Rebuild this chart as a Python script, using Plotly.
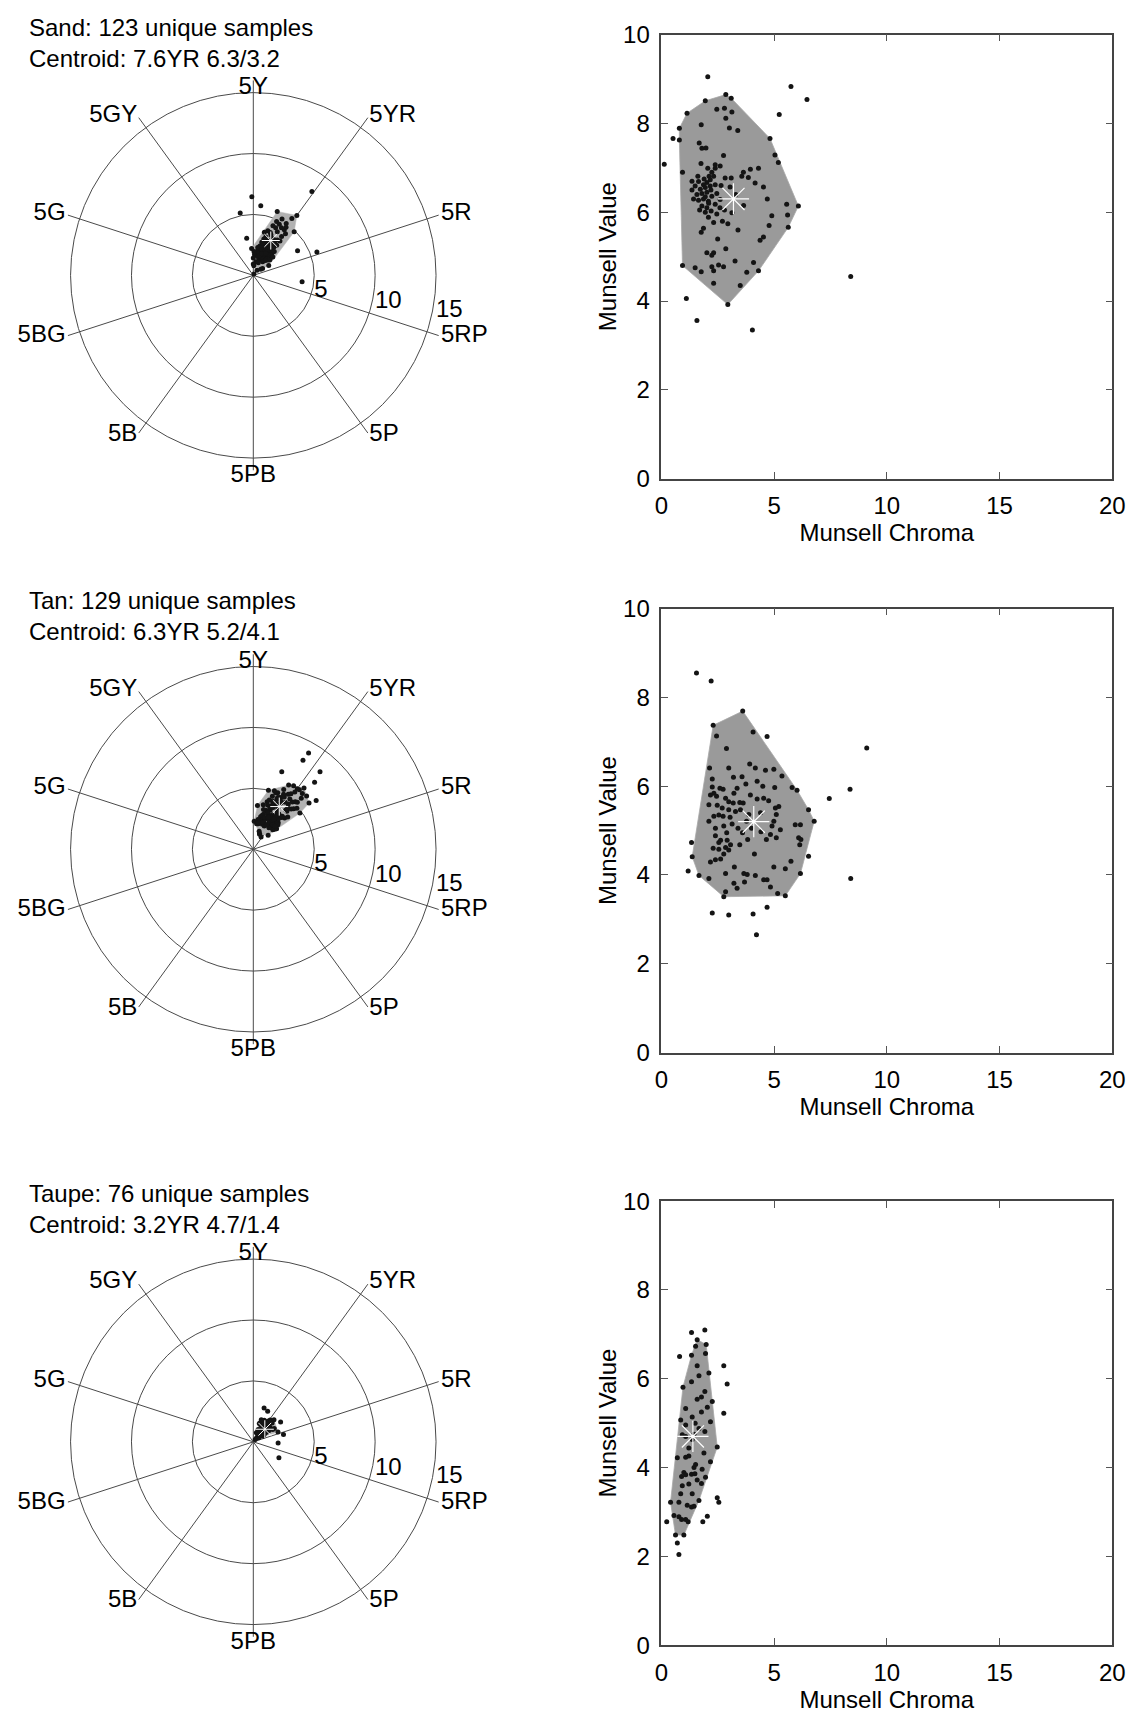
import math
import plotly.graph_objects as go

# ---------------- data ----------------
# Hue on the 100-step Munsell circle: 5R=5, 5YR=15, 5Y=25, ... 5RP=95
HUE_FAMILIES = ["R", "YR", "Y", "GY", "G", "BG", "B", "PB", "P", "RP"]
HUE_TICK_HUES = [5, 15, 25, 35, 45, 55, 65, 75, 85, 95]
HUE_TICK_TEXT = ["5R", "5YR", "5Y", "5GY", "5G", "5BG", "5B", "5PB", "5P", "5RP"]
HUE_TICK_POS = ["middle right", "middle right", "middle center", "middle left",
                "middle left", "middle left", "middle left", "bottom center",
                "middle right", "middle right"]
HUE_LABEL_R = [16.2, 16.2, 15.4, 16.2, 16.2, 16.2, 16.2, 15.5, 16.2, 16.2]
SPOKE_LENGTH = 16
CHROMA_RINGS = [5, 10, 15]
RING_LABEL_R = [5.7, 11.3, 16.35]
RING_LABEL_ANGLE = [-13.4, -11.3, -10.3]
CHROMA_TICKS = [0, 5, 10, 15, 20]
VALUE_TICKS = [0, 2, 4, 6, 8, 10]

NAMES = ["Sand", "Tan", "Taupe"]
CENTROID_HUE = [17.6, 16.3, 13.2]
CENTROID_VALUE = [6.3, 5.2, 4.7]
CENTROID_CHROMA = [3.2, 4.1, 1.4]

# Sand: core samples (inside both hulls)
SAND_CORE_CHROMA = [1.14, 1.95, 2.86, 3.10, 2.46, 2.80, 3.13, 2.86, 0.80, 1.77,
                    3.02, 3.39, 4.82, 0.80, 1.68, 1.80, 1.98, 2.76, 5.04, 5.19,
                    1.76, 2.61, 2.39, 2.06, 0.94, 2.24, 3.64, 3.95, 4.31, 3.86,
                    3.57, 2.83, 4.53, 3.05, 2.12, 2.32, 2.17, 2.02, 1.87, 1.65,
                    1.50, 1.36, 1.73, 1.95, 2.17, 2.39, 1.58, 1.80, 2.02, 2.24,
                    1.43, 1.65, 1.87, 2.09, 2.46, 1.80, 2.02, 2.21, 1.95, 2.39,
                    2.61, 2.80, 3.13, 2.46, 2.32, 2.09, 2.71, 2.95, 1.87, 1.77,
                    5.60, 4.90, 4.78, 5.63, 6.08, 4.53, 4.38, 2.86, 2.02, 2.32,
                    2.24, 3.27, 4.09, 4.31, 3.79, 2.76, 2.54, 2.24, 2.32, 1.50,
                    1.77, 0.94, 2.32, 3.50, 2.95, 1.36, 1.62, 2.39, 3.30, 2.60,
                    1.95, 3.40, 2.20, 1.70, 3.65, 2.50, 4.70, 2.10, 1.90, 2.65]
SAND_CORE_VALUE = [8.23, 8.51, 8.65, 8.57, 8.32, 8.34, 8.26, 8.12, 7.89, 7.97,
                   7.90, 7.84, 7.66, 7.63, 7.56, 7.44, 7.45, 7.28, 7.29, 7.12,
                   7.10, 7.04, 6.99, 6.99, 6.90, 6.90, 6.90, 6.97, 6.99, 6.78,
                   6.81, 6.77, 6.57, 6.57, 6.81, 6.81, 6.73, 6.67, 6.62, 6.69,
                   6.59, 6.50, 6.52, 6.56, 6.59, 6.62, 6.40, 6.42, 6.45, 6.36,
                   6.30, 6.27, 6.30, 6.25, 6.42, 6.14, 6.10, 6.03, 6.00, 6.18,
                   6.29, 6.05, 5.99, 5.96, 5.77, 5.89, 5.80, 5.74, 5.64, 5.55,
                   5.94, 5.92, 5.70, 5.66, 6.14, 5.44, 5.37, 5.18, 5.09, 5.09,
                   5.03, 4.90, 4.87, 4.68, 4.65, 4.77, 4.81, 4.77, 4.68, 4.75,
                   4.66, 4.80, 4.40, 4.35, 3.92, 6.70, 6.81, 7.07, 6.40, 6.10,
                   6.35, 5.60, 6.50, 6.05, 6.15, 5.40, 6.30, 6.20, 6.75, 6.60]
SAND_CORE_HUE = [22.0, 19.5, 16.0, 20.5, 14.0, 21.0, 18.0, 15.0, 24.0, 16.5,
                 19.5, 16.5, 18.5, 11.0, 21.5, 14.5, 20.5, 17.5, 16.0, 17.5,
                 23.0, 19.5, 15.5, 22.0, 25.0, 13.5, 18.5, 15.0, 18.0, 20.0,
                 14.5, 19.0, 15.5, 17.0, 18.0, 21.0, 20.0, 13.0, 16.5, 23.5,
                 9.0, 19.5, 24.0, 17.5, 12.5, 19.0, 21.0, 13.5, 20.5, 16.5,
                 25.0, 17.0, 12.0, 22.0, 16.0, 19.0, 14.5, 26.0, 22.5, 14.0,
                 20.5, 16.5, 14.5, 21.5, 17.5, 15.0, 19.0, 17.0, 21.0, 14.0,
                 19.3, 13.0, 15.5, 15.5, 15.0, 16.5, 19.0, 18.0, 19.5, 14.5,
                 20.0, 16.0, 17.0, 14.5, 19.0, 20.5, 15.0, 18.0, 22.5, 18.5,
                 12.5, 10.0, 16.5, 15.5, 18.5, 15.5, 18.0, 17.0, 20.0, 13.5,
                 24.5, 17.5, 12.0, 20.0, 21.0, 18.5, 17.5, 15.5, 19.0, 16.5]
# Sand: off-hue samples (inside value/chroma hull, outside hue/chroma hull)
SAND_OFFHUE_CHROMA = [3.10, 4.16, 5.56]
SAND_OFFHUE_VALUE = [6.77, 6.66, 6.18]
SAND_OFFHUE_HUE = [27.8, 8.1, 5.6]
# Sand: outliers
SAND_OUT_CHROMA = [2.06, 5.75, 6.46, 5.23, 0.13, 0.52, 1.11, 1.58, 4.04, 8.40]
SAND_OUT_VALUE = [9.05, 8.83, 8.54, 8.20, 7.08, 7.66, 4.06, 3.56, 3.35, 4.55]
SAND_OUT_HUE = [16.7, 23.3, 25.3, 28.3, 18.0, 15.0, 19.0, 14.0, 97.9, 15.3]

# Tan
TAN_CORE_CHROMA = [3.61, 2.30, 1.37, 1.67, 2.77, 5.50, 6.17, 6.53, 2.45, 4.07,
                   2.89, 3.92, 4.17, 4.62, 4.99, 5.35, 5.80, 6.02, 2.14, 2.99,
                   2.26, 3.58, 3.36, 5.03, 2.74, 2.33, 2.18, 2.45, 2.85, 2.99,
                   3.19, 3.48, 3.63, 3.95, 4.25, 4.54, 4.76, 5.21, 5.06, 2.48,
                   2.70, 2.99, 3.29, 3.51, 3.88, 4.40, 5.10, 4.99, 4.91, 2.11,
                   2.33, 2.74, 3.14, 4.42, 4.84, 5.28, 5.94, 6.17, 2.77, 2.40,
                   2.63, 2.55, 2.92, 3.07, 2.85, 2.99, 2.55, 2.77, 3.48, 3.83,
                   4.66, 5.10, 6.09, 6.19, 6.14, 4.13, 2.18, 2.40, 2.63, 3.24,
                   2.85, 3.66, 3.81, 4.17, 4.54, 4.69, 4.84, 4.99, 5.50, 5.75,
                   5.16, 3.69, 3.22, 3.36, 2.85, 2.11, 2.11, 2.26, 3.22, 2.55,
                   3.78, 4.25, 2.60, 3.05, 2.40, 3.40, 2.90, 3.60, 2.30, 3.20,
                   3.75, 4.50, 4.00]
TAN_CORE_VALUE = [7.69, 7.37, 4.41, 3.99, 3.51, 3.53, 4.03, 5.47, 7.13, 7.22,
                  6.85, 6.50, 6.41, 6.36, 6.38, 6.23, 5.97, 5.91, 6.41, 6.41,
                  6.16, 6.21, 5.95, 5.97, 5.93, 5.84, 5.80, 5.77, 5.73, 5.65,
                  5.62, 5.63, 5.62, 5.80, 5.71, 5.73, 5.67, 5.54, 5.51, 5.57,
                  5.51, 5.47, 5.43, 5.47, 5.36, 5.40, 5.36, 5.21, 5.10, 5.21,
                  5.32, 5.32, 5.15, 4.97, 4.91, 5.02, 5.13, 5.13, 5.10, 4.88,
                  4.78, 4.73, 4.78, 4.68, 4.62, 4.56, 4.58, 4.47, 4.68, 4.80,
                  4.80, 4.84, 4.84, 4.80, 4.68, 4.47, 4.29, 4.34, 4.36, 4.18,
                  4.03, 4.03, 4.01, 3.99, 3.89, 3.89, 3.73, 4.18, 4.14, 4.31,
                  3.58, 3.84, 3.81, 3.70, 3.62, 3.92, 5.58, 5.98, 5.84, 5.35,
                  5.21, 6.11, 5.95, 5.30, 5.05, 5.05, 4.95, 4.95, 4.60, 6.20,
                  6.05, 6.00, 5.05]
TAN_CORE_HUE = [23.5, 24.5, 19.0, 12.0, 18.5, 17.5, 14.5, 14.0, 21.0, 20.5,
                14.0, 18.5, 13.5, 19.5, 21.0, 16.0, 15.0, 17.0, 22.0, 17.0,
                12.5, 15.0, 20.0, 14.0, 21.5, 15.5, 19.5, 13.0, 17.5, 20.5,
                14.5, 18.5, 12.5, 16.5, 19.0, 13.0, 17.5, 13.5, 18.5, 22.5,
                16.0, 13.0, 19.5, 15.5, 12.0, 16.5, 15.0, 19.0, 12.0, 18.0,
                13.5, 20.5, 16.5, 14.0, 17.0, 13.0, 11.0, 16.0, 18.0, 12.0,
                20.0, 16.5, 13.5, 18.5, 21.0, 15.5, 11.5, 19.5, 13.5, 18.0,
                15.5, 19.5, 13.5, 12.5, 15.0, 17.0, 15.0, 21.5, 14.0, 19.0,
                12.5, 16.0, 20.0, 14.0, 18.0, 12.5, 10.5, 16.5, 15.5, 13.0,
                17.0, 19.0, 14.0, 21.0, 16.0, 22.5, 23.0, 17.5, 17.0, 14.5,
                18.0, 20.0, 13.0, 16.5, 19.0, 15.0, 18.0, 13.5, 20.0, 15.5,
                21.5, 16.5, 18.5]
TAN_OFFHUE_CHROMA = [6.78]
TAN_OFFHUE_VALUE = [5.21]
TAN_OFFHUE_HUE = [19.4]
TAN_OUT_CHROMA = [1.56, 2.21, 4.69, 9.11, 8.37, 7.45, 8.40, 6.53, 1.34, 1.19,
                  2.26, 2.99, 4.07, 4.69, 4.22]
TAN_OUT_VALUE = [8.55, 8.37, 7.12, 6.86, 5.93, 5.72, 3.92, 4.42, 4.73, 4.09,
                 3.14, 3.10, 3.12, 3.27, 2.65]
TAN_OUT_HUE = [20.0, 22.0, 18.0, 16.7, 16.9, 13.2, 13.7, 10.5, 18.5, 16.0,
               17.0, 15.5, 16.5, 14.5, 17.5]

# Taupe
TAUPE_CORE_CHROMA = [1.59, 1.99, 1.34, 1.59, 2.11, 1.34, 0.96, 1.93, 1.59, 1.78,
                     2.26, 2.04, 1.78, 2.18, 0.86, 1.08, 0.93, 1.08, 1.45, 1.93,
                     1.37, 2.48, 0.71, 1.08, 1.22, 2.18, 1.52, 1.45, 1.81, 1.00,
                     1.08, 0.90, 1.34, 1.49, 1.59, 1.78, 0.93, 0.86, 0.78, 0.41,
                     1.45, 1.34, 1.15, 0.56, 0.78, 0.90, 1.08, 1.19, 0.63, 1.00,
                     1.52, 1.96, 1.67, 1.08, 1.37, 1.67, 1.22, 1.89, 1.96, 1.37,
                     1.22, 1.67, 1.50]
TAUPE_CORE_VALUE = [6.88, 6.77, 6.53, 6.29, 6.13, 5.93, 5.81, 5.71, 5.54, 5.59,
                    5.49, 5.36, 5.25, 5.03, 5.07, 4.96, 4.74, 4.70, 4.75, 4.81,
                    4.63, 4.46, 4.22, 4.23, 4.26, 4.13, 4.07, 4.00, 3.96, 3.89,
                    3.84, 3.80, 3.85, 3.86, 3.72, 3.64, 3.59, 3.41, 3.22, 3.22,
                    3.13, 3.11, 3.15, 2.92, 2.89, 2.83, 2.83, 2.78, 2.48, 2.48,
                    6.73, 6.57, 6.07, 5.33, 5.14, 4.88, 4.44, 4.33, 3.78, 3.41,
                    3.63, 3.26, 5.00]
TAUPE_CORE_HUE = [20.0, 17.5, 14.0, 12.0, 15.0, 10.0, 16.0, 13.5, 11.0, 18.0,
                  14.5, 9.0, 16.5, 12.5, 13.0, 19.0, 8.0, 14.0, 12.0, 15.5,
                  10.5, 13.0, 17.0, 11.5, 15.0, 6.0, 13.5, 16.0, 11.0, 14.5,
                  9.5, 18.5, 12.5, 14.0, 10.0, 13.0, 15.5, 12.0, 20.0, 14.0,
                  11.5, 13.5, 16.5, 10.0, 13.0, 15.0, 12.0, 14.5, 11.0, 13.5,
                  18.5, 16.0, 19.5, 12.5, 14.5, 11.5, 13.0, 9.0, 14.0, 16.5,
                  10.5, 12.5, 14.0]
TAUPE_OFFHUE_CHROMA = []
TAUPE_OFFHUE_VALUE = []
TAUPE_OFFHUE_HUE = []
TAUPE_OUT_CHROMA = [1.34, 1.93, 0.81, 2.77, 2.92, 2.77, 2.48, 2.55, 2.04, 1.84,
                    0.24, 0.71, 0.78]
TAUPE_OUT_VALUE = [7.04, 7.10, 6.50, 6.29, 5.88, 5.22, 3.32, 3.22, 2.90, 2.78,
                   2.78, 2.30, 2.04]
TAUPE_OUT_HUE = [15.0, 19.5, 12.0, 18.0, 20.1, 10.0, 91.1, 3.8, 99.2, 12.5,
                 14.0, 13.0, 15.5]

DATASETS = [
    (SAND_CORE_HUE, SAND_CORE_VALUE, SAND_CORE_CHROMA,
     SAND_OFFHUE_HUE, SAND_OFFHUE_VALUE, SAND_OFFHUE_CHROMA,
     SAND_OUT_HUE, SAND_OUT_VALUE, SAND_OUT_CHROMA),
    (TAN_CORE_HUE, TAN_CORE_VALUE, TAN_CORE_CHROMA,
     TAN_OFFHUE_HUE, TAN_OFFHUE_VALUE, TAN_OFFHUE_CHROMA,
     TAN_OUT_HUE, TAN_OUT_VALUE, TAN_OUT_CHROMA),
    (TAUPE_CORE_HUE, TAUPE_CORE_VALUE, TAUPE_CORE_CHROMA,
     TAUPE_OFFHUE_HUE, TAUPE_OFFHUE_VALUE, TAUPE_OFFHUE_CHROMA,
     TAUPE_OUT_HUE, TAUPE_OUT_VALUE, TAUPE_OUT_CHROMA),
]

# ---------------- helpers ----------------
DEG_PER_HUE = 3.6


def convex_hull(points):
    pts = sorted(set(points))
    if len(pts) < 3:
        return pts

    def cross(o, a, b):
        return (a[0] - o[0]) * (b[1] - o[1]) - (a[1] - o[1]) * (b[0] - o[0])

    lower = []
    for p in pts:
        while len(lower) >= 2 and cross(lower[-2], lower[-1], p) <= 0:
            lower.pop()
        lower.append(p)
    upper = []
    for p in reversed(pts):
        while len(upper) >= 2 and cross(upper[-2], upper[-1], p) <= 0:
            upper.pop()
        upper.append(p)
    return lower[:-1] + upper[:-1]


def hue_text(h):
    fam = HUE_FAMILIES[int(h // 10) % 10]
    return f"{h % 10:.1f}{fam}"


FONT = "Liberation Sans, Arial, sans-serif"
FS = 24
GRID = "#4a4a4a"

# layout geometry (pixels of the 1140 x 1728 page)
W, H = 1140, 1728
PLOT_TOPS = [21, 604, 1206]
PLOT_SIZE = 451
PLOT_LEFT, PLOT_RIGHT = 666, 1125
POLAR_CX = 250.7
POLAR_DY = 244.5
PX_PER_CHROMA = 12.4
POLAR_MAX = 17
POLAR_R = PX_PER_CHROMA * POLAR_MAX

fig = go.Figure()
layout = dict(
    width=W, height=H, margin=dict(l=0, r=0, t=0, b=0),
    paper_bgcolor="white", plot_bgcolor="white", showlegend=False,
    font=dict(family=FONT, size=FS, color="black"),
    annotations=[],
)
tfont = dict(size=FS, color="black", family=FONT)

for k, (name, data) in enumerate(zip(NAMES, DATASETS)):
    (c_h, c_v, c_c, o_h, o_v, o_c, x_h, x_v, x_c) = data
    assert len(c_h) == len(c_v) == len(c_c)
    assert len(o_h) == len(o_v) == len(o_c)
    assert len(x_h) == len(x_v) == len(x_c)
    n_samples = len(c_c) + len(o_c) + len(x_c)
    all_h = c_h + o_h + x_h
    all_v = c_v + o_v + x_v
    all_c = c_c + o_c + x_c
    sfx = "" if k == 0 else str(k + 1)
    top = PLOT_TOPS[k]

    # ---- polar (hue / chroma) ----
    cy = top + POLAR_DY
    pol = "polar" + sfx
    layout[pol] = dict(
        domain=dict(x=[(POLAR_CX - POLAR_R) / W, (POLAR_CX + POLAR_R) / W],
                    y=[1 - (cy + POLAR_R) / H, 1 - (cy - POLAR_R) / H]),
        bgcolor="rgba(0,0,0,0)",
        radialaxis=dict(range=[0, POLAR_MAX], tickmode="array",
                        tickvals=CHROMA_RINGS, showticklabels=False, ticks="",
                        showline=False, gridcolor=GRID, gridwidth=1),
        angularaxis=dict(rotation=0, direction="counterclockwise",
                         showticklabels=False, ticks="", showline=False,
                         showgrid=False),
    )
    # hue spokes
    sp_r, sp_t = [], []
    for h in HUE_TICK_HUES:
        sp_r += [0, SPOKE_LENGTH, None]
        sp_t += [h * DEG_PER_HUE, h * DEG_PER_HUE, None]
    fig.add_trace(go.Scatterpolar(
        r=sp_r, theta=sp_t, mode="lines", line=dict(color=GRID, width=1),
        connectgaps=False, subplot=pol, hoverinfo="skip"))
    ab = [(c * math.cos(math.radians(h * DEG_PER_HUE)),
           c * math.sin(math.radians(h * DEG_PER_HUE))) for h, c in zip(c_h, c_c)]
    hull_ab = convex_hull(ab)
    hull_ab.append(hull_ab[0])
    fig.add_trace(go.Scatterpolar(
        r=[math.hypot(a, b) for a, b in hull_ab],
        theta=[math.degrees(math.atan2(b, a)) for a, b in hull_ab],
        mode="lines", fill="toself", fillcolor="#b2b2b2",
        line=dict(color="#b8b8b8", width=0.5), subplot=pol, hoverinfo="skip"))
    fig.add_trace(go.Scatterpolar(
        r=all_c, theta=[h * DEG_PER_HUE for h in all_h], mode="markers",
        marker=dict(size=5, color="#141414"), subplot=pol))
    fig.add_trace(go.Scatterpolar(
        r=[CENTROID_CHROMA[k]], theta=[CENTROID_HUE[k] * DEG_PER_HUE],
        mode="markers",
        marker=dict(symbol="asterisk-open", size=15, color="white",
                    line=dict(color="white", width=1)), subplot=pol))
    # hue labels at the end of each spoke
    fig.add_trace(go.Scatterpolar(
        r=HUE_LABEL_R, theta=[h * DEG_PER_HUE for h in HUE_TICK_HUES],
        mode="text", text=HUE_TICK_TEXT, textposition=HUE_TICK_POS,
        textfont=tfont, cliponaxis=False, subplot=pol, hoverinfo="skip"))
    # chroma ring labels
    fig.add_trace(go.Scatterpolar(
        r=RING_LABEL_R, theta=RING_LABEL_ANGLE, mode="text",
        text=[str(v) for v in CHROMA_RINGS], textfont=tfont,
        cliponaxis=False, subplot=pol, hoverinfo="skip"))

    # ---- cartesian (chroma / value) ----
    xa, ya = "x" + sfx, "y" + sfx
    vc = list(zip(c_c + o_c, c_v + o_v))
    hull_vc = convex_hull(vc)
    hull_vc.append(hull_vc[0])
    fig.add_trace(go.Scatter(
        x=[p[0] for p in hull_vc], y=[p[1] for p in hull_vc],
        mode="lines", fill="toself", fillcolor="#9a9a9a",
        line=dict(color="#a8a8a8", width=0.8), xaxis=xa, yaxis=ya,
        hoverinfo="skip"))
    fig.add_trace(go.Scatter(
        x=all_c, y=all_v, mode="markers",
        marker=dict(size=5, color="#141414"), xaxis=xa, yaxis=ya))
    fig.add_trace(go.Scatter(
        x=[CENTROID_CHROMA[k]], y=[CENTROID_VALUE[k]], mode="markers",
        marker=dict(symbol="asterisk-open", size=26, color="white",
                    line=dict(color="white", width=1.2)),
        xaxis=xa, yaxis=ya))

    axis_common = dict(showline=True, linecolor="#444444", linewidth=1.5,
                       mirror="allticks", ticks="inside", ticklen=7,
                       tickcolor="#555555", tickwidth=1, showgrid=False,
                       zeroline=False, tickfont=tfont)
    layout["xaxis" + sfx] = dict(
        axis_common, domain=[PLOT_LEFT / W, PLOT_RIGHT / W], range=[0, 20],
        tickmode="array", tickvals=CHROMA_TICKS, anchor=ya,
        ticklabelstandoff=5,
        title=dict(text="Munsell Chroma", standoff=6, font=tfont))
    layout["yaxis" + sfx] = dict(
        axis_common,
        domain=[1 - (top + PLOT_SIZE) / H, 1 - top / H], range=[0, 10],
        tickmode="array", tickvals=VALUE_TICKS, anchor=xa,
        ticklabelstandoff=5,
        title=dict(text="Munsell Value", standoff=0, font=tfont))

    # ---- two-line title ----
    layout["annotations"].append(dict(
        text=(f"{name}: {n_samples} unique samples<br>"
              f"Centroid: {hue_text(CENTROID_HUE[k])} "
              f"{CENTROID_VALUE[k]:.1f}/{CENTROID_CHROMA[k]:.1f}"),
        xref="paper", yref="paper", x=20 / W, y=1 - (top + 8) / H,
        xanchor="left", yanchor="middle", align="left", showarrow=False,
        font=tfont))

fig.update_layout(**layout)
fig.write_html("out.html")
